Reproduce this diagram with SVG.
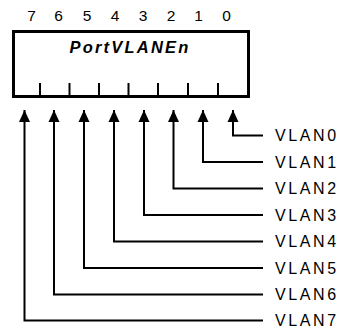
<svg xmlns="http://www.w3.org/2000/svg" width="340" height="329" viewBox="0 0 340 329">
<defs>
<style>
.t{font-family:"Liberation Sans",Arial,sans-serif;fill:#000}
.bit{font-size:15.5px;text-anchor:middle}
.lbl{font-size:16px;letter-spacing:2.6px}
.ttl{font-size:16.5px;font-weight:bold;font-style:italic;letter-spacing:2.2px;text-anchor:middle}
.w{fill:none;stroke:#000;stroke-width:2}
</style>
<marker id="ah" markerUnits="userSpaceOnUse" markerWidth="13" markerHeight="12" refX="12" refY="5.5" orient="auto" viewBox="0 0 13 11" overflow="visible">
<path d="M0,0 L12,5.5 L0,11 Z" fill="#000"/>
</marker>
</defs>
<g id="register">
<rect x="13.5" y="31.5" width="235" height="65" fill="#fff" stroke="#000" stroke-width="3"/>
<g class="w">
<line x1="40" y1="83" x2="40" y2="96"/>
<line x1="69.5" y1="83" x2="69.5" y2="96"/>
<line x1="99" y1="83" x2="99" y2="96"/>
<line x1="128.5" y1="83" x2="128.5" y2="96"/>
<line x1="158" y1="83" x2="158" y2="96"/>
<line x1="188" y1="83" x2="188" y2="96"/>
<line x1="218" y1="83" x2="218" y2="96"/>
</g>
<text class="t ttl" x="130" y="52.5">PortVLANEn</text>
<g class="t bit">
<text x="31.5" y="21">7</text>
<text x="58.5" y="21">6</text>
<text x="87" y="21">5</text>
<text x="115" y="21">4</text>
<text x="143" y="21">3</text>
<text x="171" y="21">2</text>
<text x="198.5" y="21">1</text>
<text x="226.5" y="21">0</text>
</g>
</g>
<g id="connectors" class="w">
<path d="M263,135.5 H233 V110" marker-end="url(#ah)"/>
<path d="M263,162 H203 V110" marker-end="url(#ah)"/>
<path d="M263,188.5 H173.5 V110" marker-end="url(#ah)"/>
<path d="M263,215 H144 V110" marker-end="url(#ah)"/>
<path d="M263,241.5 H114 V110" marker-end="url(#ah)"/>
<path d="M263,268 H84 V110" marker-end="url(#ah)"/>
<path d="M263,294.5 H54 V110" marker-end="url(#ah)"/>
<path d="M263,320.5 H24.5 V110" marker-end="url(#ah)"/>
</g>
<g id="labels" class="t lbl">
<text id="vlan0" x="275" y="141">VLAN0</text>
<text id="vlan1" x="275" y="167.5">VLAN1</text>
<text id="vlan2" x="275" y="194">VLAN2</text>
<text id="vlan3" x="275" y="220.5">VLAN3</text>
<text id="vlan4" x="275" y="247">VLAN4</text>
<text id="vlan5" x="275" y="273.5">VLAN5</text>
<text id="vlan6" x="275" y="300">VLAN6</text>
<text id="vlan7" x="275" y="326">VLAN7</text>
</g>
</svg>
